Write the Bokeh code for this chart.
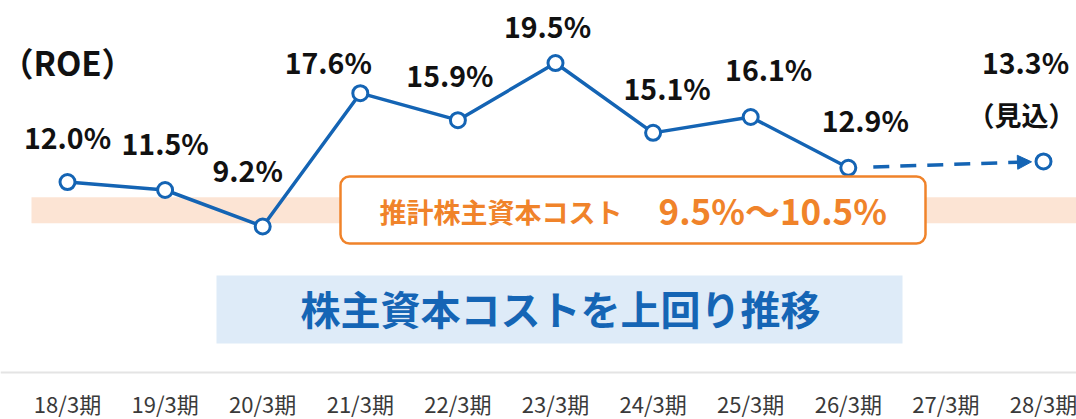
from bokeh.plotting import figure
from bokeh.models import Range1d, ColumnDataSource, BoxAnnotation, Label, Span, Arrow, NormalHead
from bokeh.core.properties import value
from bokeh.embed import file_html
from bokeh.resources import INLINE

# ---------------- data ----------------
categories = ["18/3期", "19/3期", "20/3期", "21/3期", "22/3期", "23/3期",
              "24/3期", "25/3期", "26/3期", "27/3期", "28/3期"]
roe = [12.0, 11.5, 9.2, 17.6, 15.9, 19.5, 15.1, 16.1, 12.9, None, 13.3]
forecast_index = 10          # 28/3期 is the forecast (見込)
last_actual_index = 8        # 26/3期
cost_band = (9.4, 11.05)     # shaded band as drawn
cost_title = "推計株主資本コスト"
cost_range_text = "9.5%〜10.5%"
message = "株主資本コストを上回り推移"
axis_title = "（ROE）"
forecast_note = "（見込）"

# ---------------- layout helpers ----------------
W, H = 1076, 419
PX_X = 97.6            # px per category
PX_Y = 15.87           # px per percentage point
X0 = -67 / PX_X
ZERO_Y = 372           # pixel y of 0%
def px(x_pix):
    return X0 + x_pix / PX_X
def py(y_pix):
    return (ZERO_Y - y_pix) / PX_Y

BLUE = "#1464B4"
ORANGE = "#F0832A"
FONT = "Noto Sans CJK JP"

p = figure(width=W, height=H, output_backend="svg", toolbar_location=None,
           x_range=Range1d(X0, X0 + W / PX_X),
           y_range=Range1d(py(H), py(0)),
           x_axis_type=None, y_axis_type=None, min_border=0)
p.outline_line_color = None
p.grid.visible = False
p.background_fill_color = "white"
p.border_fill_color = "white"

# baseline
p.add_layout(Span(location=0, dimension="width", line_color="#E4E4E4", line_width=2))

# cost band
p.add_layout(BoxAnnotation(bottom=cost_band[0], top=cost_band[1], left=px(31),
                           fill_color="#FCE4D4", fill_alpha=1, line_color=None,
                           level="underlay"))

# forecast dashed arrow
xs, ys = last_actual_index, roe[last_actual_index]
xe, ye = forecast_index, roe[forecast_index]
def interp(x):
    return ys + (ye - ys) * (x - xs) / (xe - xs)
a_start = xs + 25 / PX_X
a_end = xe - 12 / PX_X
p.add_layout(Arrow(x_start=a_start, y_start=interp(a_start), x_end=a_end, y_end=interp(a_end),
                   line_color=BLUE, line_width=3.5, line_dash="16 11", level="underlay",
                   end=NormalHead(size=14, fill_color=BLUE, line_color=BLUE, line_width=1)))

# actual line
act_x = list(range(last_actual_index + 1))
act_y = roe[:last_actual_index + 1]
p.line(act_x, act_y, line_color=BLUE, line_width=3.5)

# points
pts = [(i, v) for i, v in enumerate(roe) if v is not None]
p.scatter([i for i, _ in pts], [v for _, v in pts], size=15, marker="circle",
          fill_color="white", line_color=BLUE, line_width=3)

# value labels (offsets are layout, in px)
label_dx = [0, 0, -15, -32, -8, -8, 14, 18, 17, 0, -18]
label_dy = [-46, -47, -57, -32, -46, -38, -45, -48, -48, 0, -100]
lab = ColumnDataSource(dict(
    x=[i for i, _ in pts], y=[v for _, v in pts],
    text=[f"{v:.1f}%" for _, v in pts],
    dx=[label_dx[i] for i, _ in pts], dy=[label_dy[i] for i, _ in pts]))
p.text(x="x", y="y", text="text", x_offset="dx", y_offset="dy", source=lab,
       text_font=value(FONT), text_font_style="bold", text_font_size="28.5px",
       text_color="#111111", text_align="center", text_baseline="middle")
p.text(x=[forecast_index], y=[roe[forecast_index]], text=[forecast_note],
       x_offset=-22, y_offset=-47,
       text_font=value(FONT), text_font_style="bold", text_font_size="27px",
       text_color="#111111", text_align="center", text_baseline="middle")

# category labels
p.text(x=list(range(len(categories))), y=[py(402)] * len(categories), text=categories,
       text_font=value(FONT), text_font_size="22px", text_color="#3A3A3A",
       text_align="center", text_baseline="middle")

# axis title
p.add_layout(Label(x=px(67), y=py(61), text=axis_title, text_align="center",
                   text_baseline="middle", text_font=FONT, text_font_style="bold",
                   text_font_size="33px", text_color="#111111"))

# cost box
p.add_layout(BoxAnnotation(left=px(340), right=px(925), bottom=py(243), top=py(176),
                           fill_color="white", fill_alpha=1, line_color=ORANGE,
                           line_alpha=1, line_width=2.5, border_radius=9))
p.add_layout(Label(x=px(379), y=py(211), text=cost_title, text_align="left",
                   text_baseline="middle", text_font=FONT, text_font_style="bold",
                   text_font_size="27px", text_color=ORANGE))
p.add_layout(Label(x=px(658), y=py(209), text=cost_range_text, text_align="left",
                   text_baseline="middle", text_font=FONT, text_font_style="bold",
                   text_font_size="35px", text_color=ORANGE))

# message box
p.add_layout(BoxAnnotation(left=px(216), right=px(902), bottom=py(343), top=py(275),
                           fill_color="#DEEBF8", fill_alpha=1, line_color=None))
p.add_layout(Label(x=px(560), y=py(307), text=message, text_align="center",
                   text_baseline="middle", text_font=FONT, text_font_style="bold",
                   text_font_size="40px", text_color="#1565B5"))

open("out.html", "w").write(file_html(p, INLINE))
